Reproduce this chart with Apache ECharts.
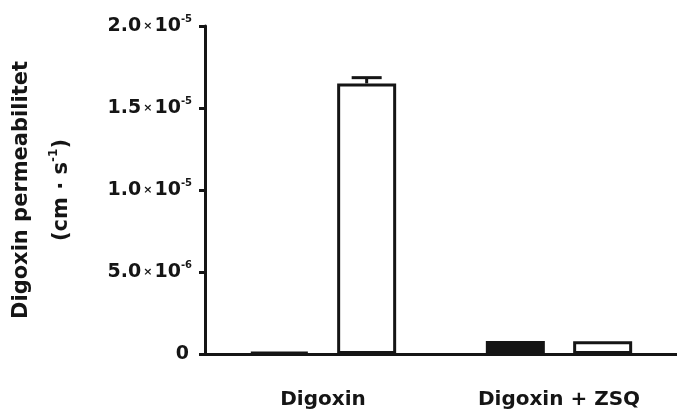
<!DOCTYPE html>
<html>
<head>
<meta charset="utf-8">
<script src="https://cdn.jsdelivr.net/npm/echarts@6/dist/echarts.min.js"></script>
<style>
html, body { margin: 0; background: #fff; }
#chart { width: 677px; height: 413px; }
</style>
</head>
<body>
<div id="chart"></div>
<script>
// groups on the x axis
var categories = ['Digoxin', 'Digoxin + ZSQ'];
// black bars and white bars (cm/s)
var filledValues = [1.2e-7, 7.9e-7];
var openValues = [1.65e-5, 7.7e-7];
var openErrors = [3.5e-7, 0];
// y tick labels, written as mantissa x 10^exp
var yTickValues = [0, 5e-6, 1e-5, 1.5e-5, 2e-5];
var yTickMantissa = ['0', '5.0', '1.0', '1.5', '2.0'];
var yTickExponent = ['', '-6', '-5', '-5', '-5'];

var ink = '#151515';
var font = 'DejaVu Sans';
var barW = 59;
var barGap = 0.48;

function tickLabel(v) {
    var i = 0;
    for (var k = 1; k < yTickValues.length; k++) {
        if (Math.abs(yTickValues[k] - v) < Math.abs(yTickValues[i] - v)) i = k;
    }
    if (!yTickExponent[i]) return '{z|' + yTickMantissa[i] + '}';
    return '{m|' + yTickMantissa[i] + '}{x|×}{m|10}{sup|' + yTickExponent[i] + '}';
}

var errData = [];
for (var i = 0; i < categories.length; i++) {
    if (openErrors[i]) errData.push([i, openValues[i], openErrors[i]]);
}

var chart = echarts.init(document.getElementById('chart'));
chart.setOption({
    animation: false,
    backgroundColor: '#fff',
    grid: { left: 205, right: 0, top: 26, bottom: 59 },
    xAxis: {
        type: 'category',
        data: categories,
        axisLine: { lineStyle: { color: ink, width: 3 } },
        axisTick: { alignWithLabel: true, length: 8, lineStyle: { color: ink, width: 3 } },
        axisLabel: { color: ink, fontFamily: font, fontWeight: 'bold', fontSize: 20, margin: 36 }
    },
    yAxis: {
        type: 'value',
        min: 0,
        max: 2e-5,
        interval: 5e-6,
        splitLine: { show: false },
        axisLine: { show: true, lineStyle: { color: ink, width: 3 } },
        axisTick: { show: true, length: 6, lineStyle: { color: ink, width: 3 } },
        axisLabel: {
            margin: 13,
            formatter: tickLabel,
            rich: {
                z: { color: ink, fontFamily: font, fontWeight: 'bold', fontSize: 19, padding: [0, 3, 0, 0] },
                m: { color: ink, fontFamily: font, fontWeight: 'bold', fontSize: 19 },
                x: { color: ink, fontFamily: font, fontWeight: 'bold', fontSize: 11, padding: [0, 2, 0, 2] },
                sup: { color: ink, fontFamily: font, fontWeight: 'bold', fontSize: 10, padding: [0, 0, 14, 0] }
            }
        },
        name: '{t|Digoxin permeabilitet}\n{t|(cm · s}{s|-1}{t|)}',
        nameLocation: 'middle',
        nameRotate: 90,
        nameGap: 123,
        nameTextStyle: {
            rich: {
                t: { color: ink, fontFamily: font, fontWeight: 'bold', fontSize: 21, lineHeight: 40 },
                s: { color: ink, fontFamily: font, fontWeight: 'bold', fontSize: 12, lineHeight: 40, padding: [0, 0, 16, 0] }
            }
        }
    },
    series: [
        {
            name: 'A-B',
            type: 'bar',
            data: filledValues,
            barWidth: barW,
            barGap: (barGap * 100) + '%',
            itemStyle: { color: ink, borderColor: ink, borderWidth: 3 }
        },
        {
            name: 'B-A',
            type: 'bar',
            data: openValues,
            barWidth: barW,
            itemStyle: { color: '#fff', borderColor: ink, borderWidth: 3 }
        },
        {
            type: 'custom',
            z: 5,
            data: errData,
            renderItem: function (params, api) {
                var base = api.coord([api.value(0), api.value(1)]);
                var top = api.coord([api.value(0), api.value(1) + api.value(2)]);
                var x = base[0] + (barW + barW * barGap) / 2;
                var style = { stroke: ink, lineWidth: 3 };
                return {
                    type: 'group',
                    children: [
                        { type: 'line', shape: { x1: x, y1: base[1], x2: x, y2: top[1] }, style: style },
                        { type: 'line', shape: { x1: x - 15, y1: top[1], x2: x + 15, y2: top[1] }, style: style }
                    ]
                };
            }
        }
    ]
});
</script>
</body>
</html>
